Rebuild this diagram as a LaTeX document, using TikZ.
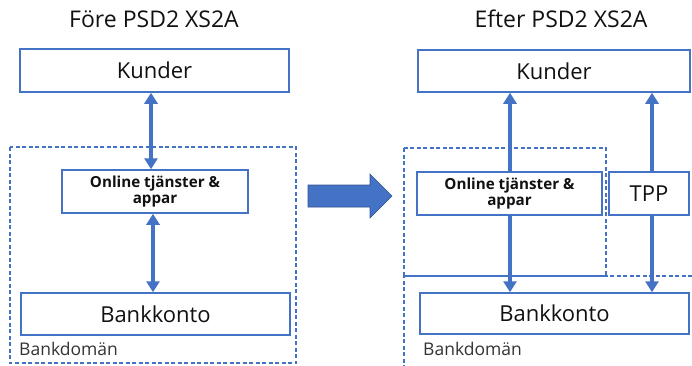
\documentclass[tikz,border=0pt]{standalone}
\usepackage{fontspec}
\setmainfont{Open Sans}
\usetikzlibrary{arrows.meta}
\definecolor{office}{HTML}{4472C4}
\definecolor{officedark}{HTML}{2F528F}
\definecolor{ink}{HTML}{111111}
\definecolor{grayink}{HTML}{333333}
\begin{document}
\begin{tikzpicture}[x=1pt,y=-1pt,
  box/.style={draw=office, line width=1.5pt, fill=white, inner sep=0pt, text=ink},
  big/.style={font=\fontsize{22}{26}\selectfont},
  heading/.style={font=\fontsize{23}{27}\selectfont, text=ink, anchor=base, inner sep=0pt},
  small/.style={font=\bfseries\fontsize{15.2}{15.5}\selectfont, align=center},
  domainline/.style={draw=office, line width=1.4pt, dash pattern=on 4pt off 2.5pt},
  domainlabel/.style={font=\fontsize{17.5}{20}\selectfont, text=grayink, anchor=base west, inner sep=0pt},
  link/.style={draw=office, line width=3.5pt, -{Triangle[width=13pt,length=11pt]}},
  duplex/.style={draw=office, line width=3.5pt, {Triangle[width=13pt,length=11pt]}-{Triangle[width=13pt,length=11pt]}},
]
\useasboundingbox (0,0) rectangle (692,365);

% ---------- before ----------
\node[heading] (t1) at (154,27) {Före PSD2 XS2A};
\draw[domainline] (10,147) rectangle (296,363);
\node[box,big,minimum width=269pt,minimum height=43pt] (k1) at (154.5,70.5) {Kunder};
\node[box,small,minimum width=186pt,minimum height=43pt] (on1) at (155,191.5) {Online tjänster \&\\appar};
\node[box,big,minimum width=269pt,minimum height=42pt] (b1) at (155.5,314) {Bankkonto};
\node[domainlabel] (d1) at (19,355) {Bankdomän};

\coordinate (ax1) at (151,0);
\coordinate (ax2) at (153,0);
\draw[duplex] (k1.south -| ax1) -- (on1.north -| ax1);
\draw[duplex] (on1.south -| ax2) -- (b1.north -| ax2);

% ---------- transition arrow ----------
\draw[officedark, line width=0.6pt, fill=office]
  (308,185) -- (370,185) -- (370,174) -- (392,196) -- (370,218) -- (370,207) -- (308,207) -- cycle;

% ---------- after ----------
\node[heading] (t2) at (561,27) {Efter PSD2 XS2A};
\draw[domainline] (404,148) rectangle (606,276);
\draw[domainline] (692,276) -- (404,276) -- (404,366);
\node[box,big,minimum width=272pt,minimum height=42pt] (k2) at (554,71) {Kunder};
\node[box,small,minimum width=185pt,minimum height=43pt] (on2) at (509.5,193.5) {Online tjänster \&\\appar};
\node[box,big,minimum width=80pt,minimum height=43pt] (tpp) at (649,193.5) {TPP};
\node[box,big,minimum width=269pt,minimum height=41pt] (b2) at (554.5,313.5) {Bankkonto};
\node[domainlabel] (d2) at (423,355) {Bankdomän};

\coordinate (ax3) at (510,0);
\coordinate (ax4) at (652,0);
\draw[link] (on2.north -| ax3) -- (k2.south -| ax3);
\draw[link] (on2.south -| ax3) -- (b2.north -| ax3);
\draw[link] (tpp.north -| ax4) -- (k2.south -| ax4);
\draw[link] (tpp.south -| ax4) -- (b2.north -| ax4);
\end{tikzpicture}
\end{document}
